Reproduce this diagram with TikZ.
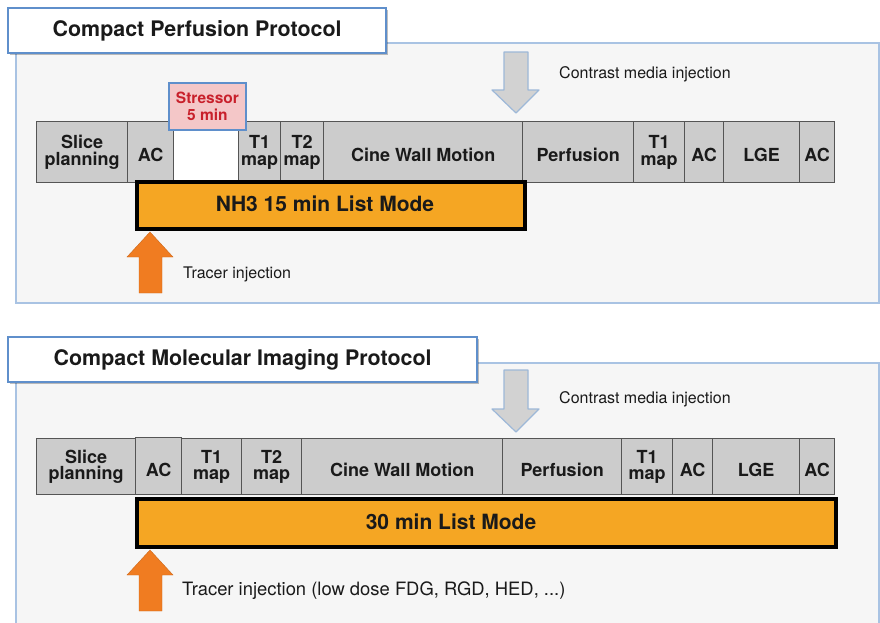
\documentclass[tikz,border=0pt]{standalone}
\usepackage{fontspec}
\setmainfont{TeX Gyre Heros}
\usetikzlibrary{shadows}
\definecolor{panelbg}{HTML}{F6F6F6}
\definecolor{panelline}{HTML}{A9C3E3}
\definecolor{titleline}{HTML}{5F8FCB}
\definecolor{blkgray}{HTML}{CCCCCC}
\definecolor{blkline}{HTML}{555555}
\definecolor{barorange}{HTML}{F5A623}
\definecolor{arroworange}{HTML}{F07C21}
\definecolor{arrowgray}{HTML}{D2D2D2}
\definecolor{arrowline}{HTML}{9DB8D8}
\definecolor{stressfill}{HTML}{F4C7C8}
\definecolor{stressred}{HTML}{C8202B}
\definecolor{inktext}{HTML}{1A1A1A}
\begin{document}
\begin{tikzpicture}[x=1pt,y=-1pt,
  panel/.style={fill=panelbg,draw=panelline,line width=1.2pt},
  titlebox/.style={fill=white,draw=titleline,line width=2.2pt,inner sep=0pt,
    anchor=north west,text=inktext,font=\bfseries\fontsize{21.4}{24}\selectfont,
    drop shadow={shadow xshift=1.5pt,shadow yshift=-1.5pt,opacity=0.25,fill=black}},
  blk/.style={fill=blkgray,draw=blkline,line width=1.3pt,inner sep=0pt,
    anchor=north west,align=center,text=inktext,
    font=\bfseries\fontsize{18}{16.5}\selectfont},
  % an invisible strut on the first line sets the labels a little low in their boxes
  toprow/.style={blk,minimum height=61pt,execute at begin node={\rule{0pt}{18pt}}},
  botrow/.style={blk,minimum height=56pt,execute at begin node={\rule{0pt}{20pt}}},
  gapbox/.style={fill=white,inner sep=0pt,anchor=north west},
  stressbox/.style={fill=stressfill,draw=titleline,line width=1.8pt,inner sep=0pt,
    anchor=north west,align=center,text=stressred,
    font=\bfseries\fontsize{15.5}{17.5}\selectfont},
  listbar/.style={fill=barorange,draw=black,line width=3.5pt,inner sep=0pt,
    anchor=north west},
  barlabel/.style={inner sep=0pt,text=inktext,font=\bfseries\fontsize{21}{24}\selectfont},
  note/.style={anchor=base west,inner sep=0pt,text=inktext,
    font=\fontsize{16}{18}\selectfont},
  tracerarrow/.style={fill=arroworange,draw=arroworange!85!black,line width=0.4pt},
  contrastarrow/.style={fill=arrowgray,draw=arrowline,line width=1.2pt,line join=round}
]
\useasboundingbox (0,0) rectangle (880,622);
\clip (0,0) rectangle (880,622);

% ---------- Compact Perfusion Protocol ----------
\draw[panel] (16,43) rectangle (879,303);
\node[titlebox,minimum width=378pt,minimum height=45pt] (title1) at (7,7)
  {Compact Perfusion Protocol};

\draw[contrastarrow] (504,52) -- (528,52) -- (528,90) -- (539,90) -- (516,113)
  -- (492,90) -- (504,90) -- cycle;
\node[note] (contrast1) at (559,78) {Contrast media injection};

\node[toprow,minimum width=91pt] (slice1) at (36,121) {Slice\\planning};
\node[toprow,minimum width=46pt] (ac1) at (127,121) {AC};
\node[gapbox,minimum width=64pt,minimum height=58pt] (gap1) at (173.7,122) {};
\node[toprow,minimum width=42pt] (t1a) at (238,121) {T1\\map};
\node[toprow,minimum width=43pt] (t2a) at (280,121) {T2\\map};
\node[toprow,minimum width=199pt] (cine1) at (323,121) {Cine Wall Motion};
\node[toprow,minimum width=111pt] (perf1) at (522,121) {Perfusion};
\node[toprow,minimum width=51pt] (t1b) at (633,121) {T1\\map};
\node[toprow,minimum width=39pt] (ac2) at (684,121) {AC};
\node[toprow,minimum width=76pt] (lge1) at (723,121) {LGE};
\node[toprow,minimum width=35pt] (ac3) at (799,121) {AC};

\node[stressbox,minimum width=77pt,minimum height=47pt] (stress) at (168,82)
  {Stressor\\5 min};

\node[listbar,minimum width=388pt,minimum height=47pt] (bar1) at (135,180) {};
\node[barlabel] (bar1text) at (325,204) {NH3 15 min List Mode};

\draw[tracerarrow] (150,232) -- (173,257) -- (162,257) -- (162,293) -- (139,293)
  -- (139,257) -- (127,257) -- cycle;
\node[note] (tracer1) at (183,278) {Tracer injection};

% ---------- Compact Molecular Imaging Protocol ----------
\draw[panel] (16,363) rectangle (879,640);
\node[titlebox,minimum width=469pt,minimum height=45pt] (title2) at (7,336)
  {Compact Molecular Imaging Protocol};

\draw[contrastarrow] (504,370) -- (528,370) -- (528,409) -- (539,409) -- (516,432)
  -- (492,409) -- (504,409) -- cycle;
\node[note] (contrast2) at (559,403) {Contrast media injection};

\node[botrow,minimum width=99pt] (slice2) at (36,438) {Slice\\planning};
\node[botrow,minimum width=46pt,minimum height=57pt] (ac4) at (135,437) {AC};
\node[botrow,minimum width=60pt] (t1c) at (181,438) {T1\\map};
\node[botrow,minimum width=60pt] (t2c) at (241,438) {T2\\map};
\node[botrow,minimum width=201pt] (cine2) at (301,438) {Cine Wall Motion};
\node[botrow,minimum width=119pt] (perf2) at (502,438) {Perfusion};
\node[botrow,minimum width=51pt] (t1d) at (621,438) {T1\\map};
\node[botrow,minimum width=40pt] (ac5) at (672,438) {AC};
\node[botrow,minimum width=87pt] (lge2) at (712,438) {LGE};
\node[botrow,minimum width=35pt] (ac6) at (799,438) {AC};

\node[listbar,minimum width=699pt,minimum height=48pt] (bar2) at (135,497) {};
\node[barlabel] (bar2text) at (451,522) {30 min List Mode};

\draw[tracerarrow] (150,550) -- (173,575) -- (162,575) -- (162,611) -- (139,611)
  -- (139,575) -- (127,575) -- cycle;
\node[note,font=\fontsize{18.4}{20}\selectfont] (tracer2) at (182,595)
  {Tracer injection (low dose FDG, RGD, HED, ...)};
\end{tikzpicture}
\end{document}
